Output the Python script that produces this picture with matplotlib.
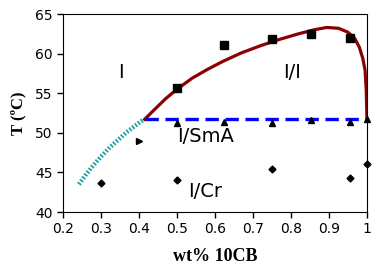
import matplotlib
matplotlib.use('Agg')
import matplotlib.pyplot as plt

# measured points
sq_x = [0.5, 0.625, 0.75, 0.852, 0.955]
sq_y = [55.6, 61.1, 61.8, 62.5, 62.0]

tri_x = [0.5, 0.625, 0.75, 0.852, 0.955, 1.0]
tri_y = [51.2, 51.4, 51.2, 51.6, 51.4, 51.8]

rtri_x = [0.4]
rtri_y = [49.0]

dia_x = [0.3, 0.5, 0.75, 0.955, 1.0]
dia_y = [43.6, 44.1, 45.4, 44.3, 46.1]

# curves
red_x = [0.415, 0.44, 0.47, 0.5, 0.54, 0.58, 0.62, 0.67, 0.72, 0.77, 0.82, 0.86,
         0.894, 0.925, 0.95, 0.968, 0.98, 0.989, 0.995, 0.998, 1.0]
red_y = [51.7, 52.9, 54.3, 55.5, 56.9, 58.0, 59.0, 60.1, 61.0, 61.8, 62.5, 63.0,
         63.3, 63.2, 62.7, 61.9, 60.8, 59.4, 57.9, 55.5, 51.7]

teal_x = [0.242, 0.26, 0.28, 0.30, 0.324, 0.345, 0.368, 0.39, 0.413]
teal_y = [43.5, 44.7, 45.9, 47.0, 48.2, 49.1, 50.1, 50.9, 51.7]

smA_x = [0.417, 1.0]
smA_y = [51.7, 51.7]

fig = plt.figure(figsize=(3.74, 2.71), dpi=100)
ax = fig.add_axes([0.1684, 0.2177, 0.8128, 0.7306])

ax.plot(teal_x, teal_y, color='#22a0a0', lw=3.2, ls=(0, (0.4, 0.4)))
ax.plot(red_x, red_y, color='#8b0000', lw=2.3)
ax.plot(smA_x, smA_y, color='#0000ff', lw=2.4, ls=(0, (4, 2)))

ax.plot(sq_x, sq_y, 's', color='black', ms=5.5, clip_on=False)
ax.plot(tri_x, tri_y, '^', color='black', ms=5, clip_on=False)
ax.plot(rtri_x, rtri_y, '>', color='black', ms=5, clip_on=False)
ax.plot(dia_x, dia_y, 'D', color='black', ms=3.5, clip_on=False)

ax.text(0.353, 57.6, 'I', fontsize=14, ha='center', va='center')
ax.text(0.803, 57.6, 'I/I', fontsize=14, ha='center', va='center')
ax.text(0.575, 49.5, 'I/SmA', fontsize=14, ha='center', va='center')
ax.text(0.575, 42.6, 'I/Cr', fontsize=14, ha='center', va='center')

ax.set_xlim(0.2, 1.0)
ax.set_ylim(40, 65)
ax.set_xticks([0.2, 0.3, 0.4, 0.5, 0.6, 0.7, 0.8, 0.9, 1.0])
ax.set_xticklabels(['0.2', '0.3', '0.4', '0.5', '0.6', '0.7', '0.8', '0.9', '1'])
ax.set_yticks([40, 45, 50, 55, 60, 65])
ax.tick_params(labelsize=10, length=4, width=1)

ax.set_xlabel('wt% 10CB', fontsize=13, fontweight='bold', family='Liberation Serif', labelpad=8)
ax.set_ylabel('T (ºC)', fontsize=12, fontweight='bold', family='Liberation Serif', labelpad=6)

fig.savefig('out.png', dpi=100)
